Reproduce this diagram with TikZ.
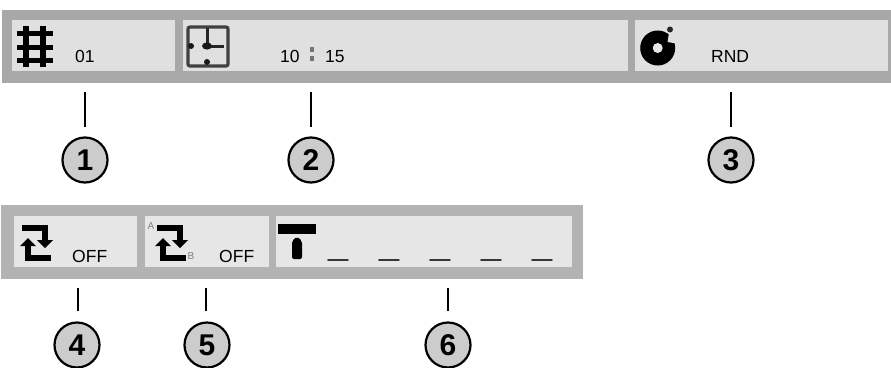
\documentclass[tikz,border=0pt]{standalone}
\usepackage{fontspec}
\usepackage{graphicx}
\setmainfont{Liberation Sans}
\usetikzlibrary{arrows.meta}
\definecolor{bartop}{HTML}{A8A8A8}
\definecolor{panetop}{HTML}{E0E0E0}
\definecolor{barlow}{HTML}{B3B3B3}
\definecolor{panelow}{HTML}{E6E6E6}
\definecolor{badge}{HTML}{CCCCCC}
\tikzset{
  x=1pt,y=-1pt,
  lab/.style={anchor=base west,inner sep=0pt,font=\fontsize{17.5}{17.5}\selectfont,text=black},
  numcirc/.style={circle,draw=black,line width=2.2pt,fill=badge,minimum size=45pt,inner sep=0pt,
     font=\fontsize{30}{30}\selectfont\bfseries,text=black},
  leader/.style={draw=black,line width=1.9pt,shorten >=11pt},
  leaderlow/.style={draw=black,line width=1.9pt,shorten >=12pt},
  icon/.style={line width=6.4pt,draw=black,line cap=butt},
  tiny/.style={inner sep=0pt,font=\fontsize{10}{10}\selectfont,text=black!50},
  uscore/.style={anchor=base west,inner sep=0pt,font=\fontsize{24}{24}\selectfont,text=black}
}
\newcommand{\repeaticon}[2]{%
  \begin{scope}[shift={(#1,#2)}]
    \draw[icon] (0,0) -- (23,0) -- (23,13);
    \fill (15,12) -- (31,12) -- (23,20) -- cycle;
    \draw[icon] (29,30) -- (6,30) -- (6,17);
    \fill (-2,18) -- (14,18) -- (6,10) -- cycle;
  \end{scope}}
\begin{document}
\begin{tikzpicture}
\useasboundingbox (0,0) rectangle (891,367);
% top bar
\fill[bartop] (2,10) rectangle (891,83);
\fill[panetop] (12,20) rectangle (175,71);
\fill[panetop] (183,20) rectangle (628,71);
\fill[panetop] (635,20) rectangle (888,71);
% hash icon
\draw[icon,line width=6pt] (26,26) -- (26,67);
\draw[icon,line width=6pt] (43,26) -- (43,67);
\draw[icon,line width=5pt] (17,33.5) -- (53,33.5);
\draw[icon,line width=5pt] (17,47) -- (53,47);
\draw[icon,line width=5pt] (17,60) -- (53,60);
% clock icon
\draw[draw=black!75,line width=3.2pt,rounded corners=2pt] (188,27) rectangle (228,66);
\draw[draw=black!85,line width=3pt] (207,28) -- (207,46) -- (224,46);
\fill[black!90] (207,46) ellipse (5 and 3.6);
\fill[black!90] (191,46) circle (3);
\fill[black!90] (207,62) circle (3);
% disc icon
\fill[black] (657.7,48) circle (17.5);
\fill[panetop] (667.5,42) -- (669,33) -- (682,33) -- (682,44.5) -- cycle;
\fill[panetop!80!black!30] (657.7,48) circle (5);
\fill[black!85] (670,29.5) circle (3);
% top labels
\node[lab] (t1) at (75,62) {01};
\node[lab] (t2) at (280,62) {10};
\fill[black!55] (309.5,46.5) rectangle (313.5,51.5);
\fill[black!55] (309.5,55.5) rectangle (313.5,60.5);
\node[lab] (t3) at (325,62) {15};
\node[lab] (t4) at (711,62) {RND};
% bottom bar
\fill[barlow] (1,205) rectangle (583,279);
\fill[panelow] (14,216) rectangle (137,267);
\fill[panelow] (145,216) rectangle (269,267);
\fill[panelow] (276,216) rectangle (572,267);
% repeat icons
\repeaticon{22}{228}
\repeaticon{157}{228}
\node[tiny] (a) at (151,226) {A};
\node[tiny] (b) at (191,256) {B};
\node[lab] (off1) at (72,262) {OFF};
\node[lab] (off2) at (219,262) {OFF};
% T icon
\fill[black] (278,224) rectangle (315.5,234);
\fill[black,rounded corners=2pt] (292,259) -- (292,241) -- (297,236.5) -- (302,241) -- (302,259) -- cycle;
\node[uscore] (u1) at (328,256.6) {\scalebox{1.5}[1]{\_}};
\node[uscore] (u2) at (379,256.6) {\scalebox{1.5}[1]{\_}};
\node[uscore] (u3) at (430,256.6) {\scalebox{1.5}[1]{\_}};
\node[uscore] (u4) at (481,256.6) {\scalebox{1.5}[1]{\_}};
\node[uscore] (u5) at (532,256.6) {\scalebox{1.5}[1]{\_}};
% numbered circles
\node[numcirc] (c1) at (85,160) {1};
\node[numcirc] (c2) at (311,160) {2};
\node[numcirc] (c3) at (731,160) {3};
\node[numcirc] (c4) at (77,345) {4};
\node[numcirc] (c5) at (207,345) {5};
\node[numcirc] (c6) at (448,345) {6};
% leaders
\coordinate (l1) at (85,92);
\coordinate (l2) at (311,92);
\coordinate (l3) at (731,92);
\coordinate (l4) at (78,288);
\coordinate (l5) at (206,288);
\coordinate (l6) at (448,288);
\draw[leader] (l1) -- (85,138);
\draw[leader] (l2) -- (311,138);
\draw[leader] (l3) -- (731,138);
\draw[leaderlow] (l4) -- (78,323);
\draw[leaderlow] (l5) -- (206,323);
\draw[leaderlow] (l6) -- (448,323);
\end{tikzpicture}
\end{document}
